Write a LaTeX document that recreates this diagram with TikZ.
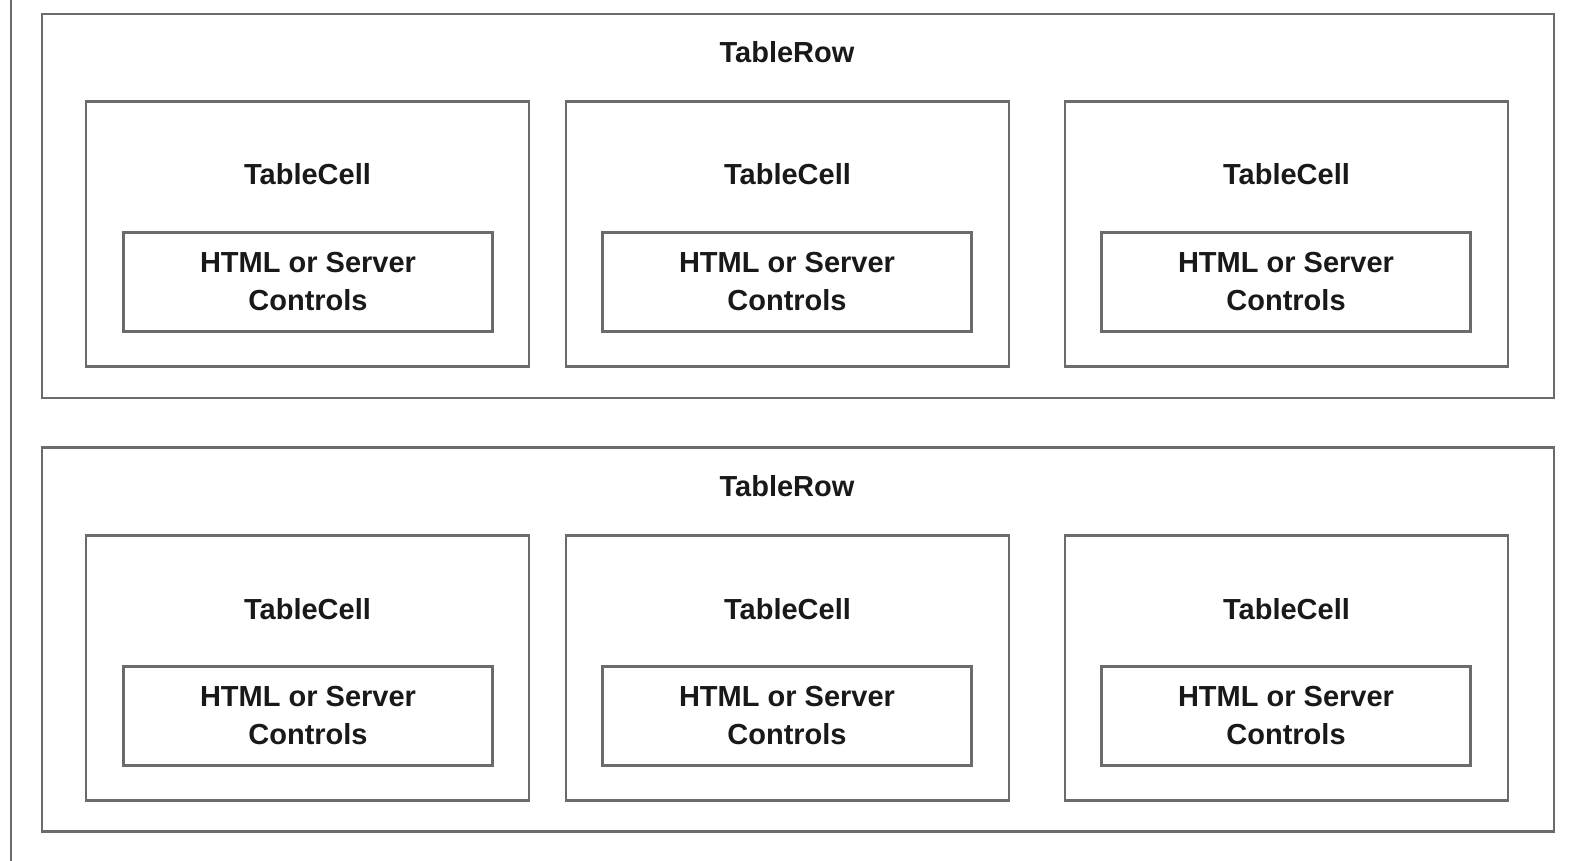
\documentclass[tikz,border=0pt]{standalone}
\usepackage{fontspec}
\setmainfont{Liberation Sans}
\begin{document}
\begin{tikzpicture}[x=1pt,y=-1pt,
  frame/.style={draw=black!58,line width=2.2pt,fill=none,inner sep=0pt,outer sep=0pt,rectangle},
  rowbox/.style={frame,minimum width=1512pt,minimum height=384pt},
  cellbox/.style={frame,minimum width=443pt,minimum height=265pt},
  ctrlbox/.style={frame,minimum width=369pt,minimum height=99pt,
    align=center,font=\fontsize{29}{38}\selectfont\bfseries,text=black!90},
  lbl/.style={inner sep=0pt,font=\fontsize{29}{35}\selectfont\bfseries,text=black!90}]
\useasboundingbox (0,0) rectangle (1579,861);

% left edge of the enclosing table
\coordinate (tabletop) at (11,0);
\coordinate (tablebot) at (11,861);
\draw[black!58,line width=2.2pt] (tabletop) -- (tablebot);

% two rows, each with three cells holding controls
\foreach \r/\ry/\cy/\ly/\cly in {1/206/234/52/174, 2/639.5/668/486/609}{
  \node[rowbox] (row\r) at (798,\ry) {};
  \node[lbl] (rowlabel\r) at (787,\ly) {TableRow};
  \foreach \c/\cx/\bx in {1/307.5/308, 2/787.5/787, 3/1286.5/1286}{
    \node[cellbox] (cell\r\c) at (\cx,\cy) {};
    \node[lbl] (celllabel\r\c) at (\cx,\cly) {TableCell};
    \node[ctrlbox,anchor=center] (ctrl\r\c) at (\bx,\cy+48) {HTML or Server\\Controls};
  }
}
\end{tikzpicture}
\end{document}
